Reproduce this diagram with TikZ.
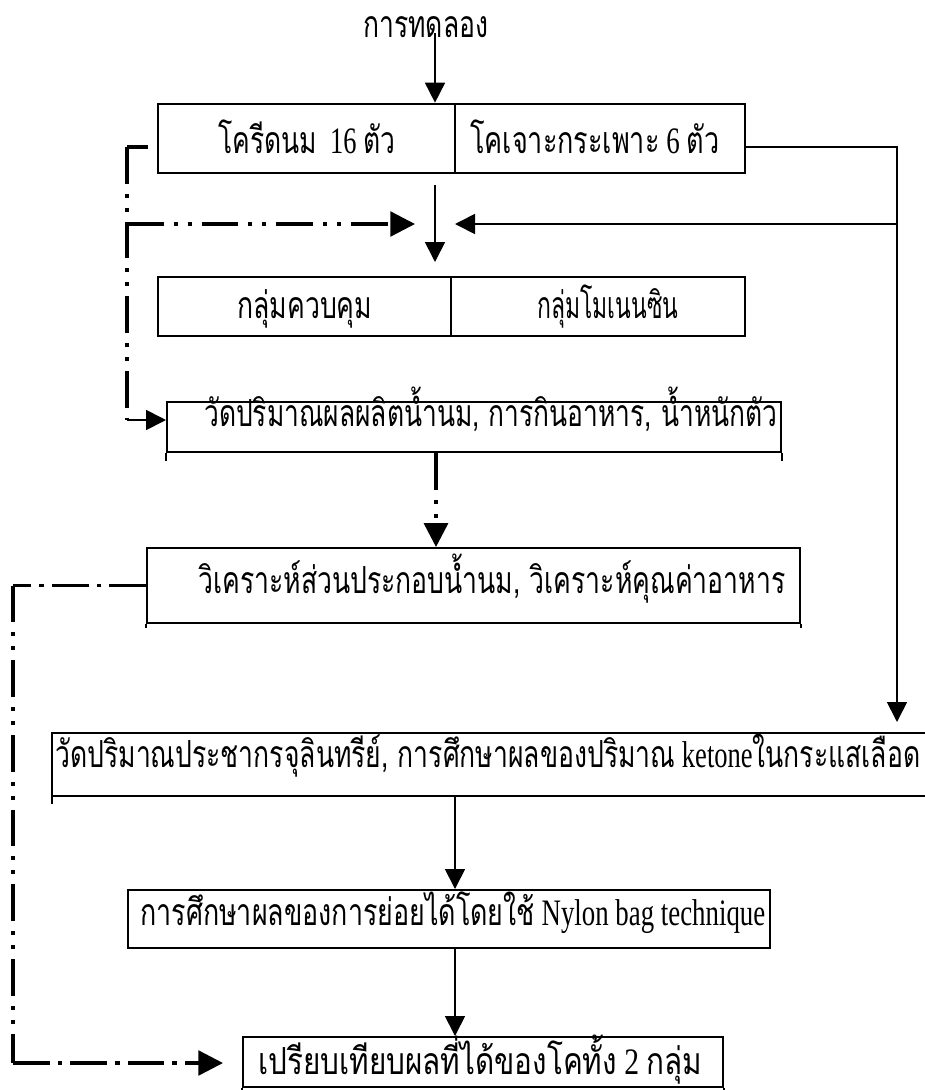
\documentclass[tikz,border=0pt]{standalone}
\usepackage{fontspec}
\usepackage{graphicx}
\setmainfont{Liberation Serif}
\newfontfamily\thai[Script=Thai]{Loma}
\usetikzlibrary{arrows.meta,calc}

% one unit = one pixel of the drawing
\newdimen\pxu \pxu=0.75pt
% set a text to a given width (in units), keeping its height
\newcommand\fitto[2]{\resizebox{#1\pxu}{\height}{#2}}
\newcommand\tha[1]{{\thai #1}}

\begin{document}
\begin{tikzpicture}[x=0.75pt,y=-0.75pt,
  lbl/.style={anchor=base west, inner sep=0pt, font=\fontsize{28}{32}\selectfont},
  cellbox/.style 2 args={draw, line width=2pt, inner sep=0pt,
    minimum width=#1*0.75pt, minimum height=#2*0.75pt},
  stagebox/.style 2 args={draw, line width=1.5pt, inner sep=0pt,
    minimum width=#1*0.75pt, minimum height=#2*0.75pt},
  openbox/.style 2 args={inner sep=0pt,
    minimum width=#1*0.75pt, minimum height=#2*0.75pt},
  edge/.style={line width=1.5pt},
  flow/.style={line width=1.3pt, -{Triangle[length=15pt,width=15pt]}},
  dashdot/.style={line width=2.6pt,
    dash pattern=on 27.5pt off 6pt on 3.5pt off 6pt},
  dashdotdot/.style={line width=2.6pt,
    dash pattern=on 27.5pt off 7.5pt on 3pt off 7.5pt on 3pt off 7.5pt},
  bigtip/.style={-{Triangle[length=18.5pt,width=18.5pt]}},
]
\useasboundingbox (0,0) rectangle (925,1090);

% ---------- boxes ----------
\node[cellbox={297}{69}] (b1l) at (306.5,138.5) {};
\node[cellbox={290}{69}] (b1r) at (600,138.5) {};
\node[cellbox={293}{59}] (b2l) at (304.5,306.5) {};
\node[cellbox={294}{59}] (b2r) at (598,306.5) {};
\node[stagebox={614}{50}] (b3) at (474,427) {};
\node[stagebox={653}{75}] (b4) at (473.5,585.5) {};
\node[openbox={873}{63}] (b5) at (488.5,764.5) {};
\node[stagebox={642}{58}] (b6) at (449,919) {};
\node[stagebox={480}{50}] (b7) at (483,1062) {};

% open-ended outline of the long box and short overhangs
\draw[edge] (b5.north east) -- (b5.north west) -- ([yshift=-6pt]b5.south west);
\draw[edge] (b5.south west) -- (b5.south east);
\draw[edge] (b3.south west) -- ++(0,8);
\draw[edge] (b3.south east) -- ++(0,8);
\draw[edge] (b4.south west) -- ++(0,4);
\draw[edge] (b4.south east) -- ++(0,4);
\draw[edge] (b7.south west) -- ++(0,4);
\draw[edge] (b7.south east) -- ++(0,4);

% ---------- texts ----------
\node[lbl] (ttitle) at (363,37) {\fitto{125}{\tha{การทดลอง}}};
\node[lbl] (t1l) at (218,153) {\fitto{177}{\tha{โครีดนม}\ \ 16 \tha{ตัว}}};
\node[lbl] (t1r) at (470,153) {\fitto{249}{\tha{โคเจาะกระเพาะ} 6 \tha{ตัว}}};
\node[lbl] (t2l) at (237,318) {\fitto{135}{\tha{กลุ่มควบคุม}}};
\node[lbl] (t2r) at (537,318) {\fitto{141}{\tha{กลุ่มโมเนนซิน}}};
\node[lbl] (t3) at (204,426) {\fitto{573}{\tha{วัดปริมาณผลผลิตน้ำนม, การกินอาหาร, น้ำหนักตัว}}};
\node[lbl] (t4) at (198,593) {\fitto{587}{\tha{วิเคราะห์ส่วนประกอบน้ำนม, วิเคราะห์คุณค่าอาหาร}}};
\node[lbl] (t5) at (55,767) {\fitto{865}{\tha{วัดปริมาณประชากรจุลินทรีย์, การศึกษาผลของปริมาณ} ketone\tha{ในกระแสเลือด}}};
\node[lbl] (t6) at (140,925) {\fitto{625}{\tha{การศึกษาผลของการย่อยได้โดยใช้} Nylon bag technique}};
\node[lbl] (t7) at (258,1074) {\fitto{444}{\tha{เปรียบเทียบผลที่ได้ของโคทั้ง} 2 \tha{กลุ่ม}}};

% ---------- connector end points ----------
\coordinate (t0) at (435,33);
\coordinate (c1) at (435,185);
\coordinate (c2) at (435,262);
\coordinate (r0) at (745,147);
\coordinate (r1) at (897,722);
\coordinate (r2) at (897,224);
\coordinate (c3) at (455,224);
\coordinate (l0) at (148,147);
\coordinate (l1) at (127,147);
\coordinate (l2) at (127,420);
\coordinate (l3) at (127,224);
\coordinate (c4) at (415,224);
\coordinate (d0) at (436,0);
\coordinate (e1) at (13,585.5);
\coordinate (e2) at (13,1063);
\coordinate (e3) at (223,1063);
\coordinate (cx) at (455,0);

% ---------- solid flow ----------
\draw[flow] (t0) -- (t0 |- b1l.north);
\draw[flow] (c1) -- (c2);
\draw[flow] (r0) -| (r1);
\draw[flow] (r2) -- (c3);
\draw[flow] (l2) -- (b3.west |- l2);
\draw[flow] (b5.south -| cx) -- (b6.north -| cx);
\draw[flow] (b6.south -| cx) -- (b7.north -| cx);

% ---------- broken flow ----------
\draw[line width=2.6pt] (l0) -- (l1);
\draw[dashdotdot] (l1) -- (l2);
\draw[dashdotdot, bigtip] (l3) -- (c4);
\draw[dashdotdot, -{Triangle[length=18pt,width=18pt]}]
  (b3.south -| d0) -- (b4.north -| d0);
\draw[dashdot] (b4.west) -- (e1);
\draw[dashdotdot] (e1) -- (e2);
\draw[dashdot, bigtip] (e2) -- (e3);
\end{tikzpicture}
\end{document}
